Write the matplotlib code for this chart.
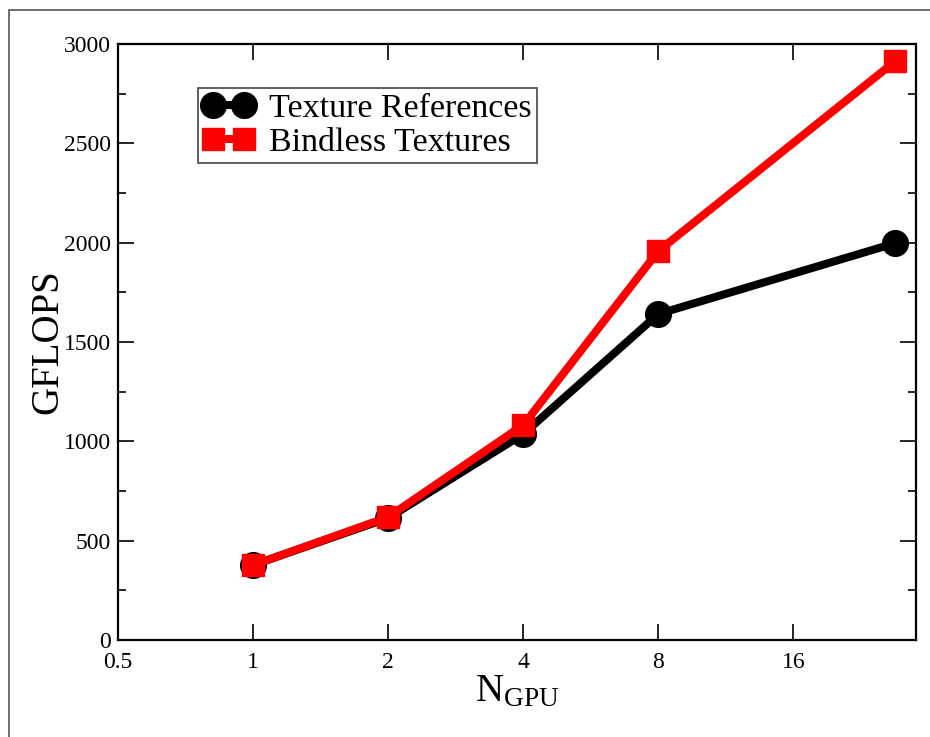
import numpy as np
import matplotlib.pyplot as plt
from matplotlib.patches import Rectangle
from matplotlib.ticker import FixedLocator, MultipleLocator

plt.rcParams['font.family'] = ['Liberation Serif', 'DejaVu Serif']
plt.rcParams['mathtext.fontset'] = 'custom'
plt.rcParams['mathtext.rm'] = 'Liberation Serif'
plt.rcParams['mathtext.it'] = 'Liberation Serif:italic'

# data
n_gpu = [1, 2, 4, 8, 27]
tex_refs = [377, 614, 1037, 1641, 1998]
bindless = [377, 619, 1082, 1958, 2914]
x_ticks = [0.5, 1, 2, 4, 8, 16]
x_labels = ['0.5', '1', '2', '4', '8', '16']

fig = plt.figure(figsize=(9.3, 7.37), dpi=100)
ax = fig.add_axes([118/930, 97/737, 798/930, 596/737])

# outer frame around the figure
fig.add_artist(Rectangle((9/930, -0.1), 1.2, 1.1 - 10/737,
                         transform=fig.transFigure, fill=False,
                         edgecolor='#555555', lw=1.2))

ax.plot(n_gpu, tex_refs, color='black', lw=5.8, marker='o', ms=18.5,
        label='Texture References', zorder=3)
ax.plot(n_gpu, bindless, color='red', lw=5.8, marker='s', ms=16,
        label='Bindless Textures', zorder=4)

ax.set_xscale('log', base=2)
ax.set_xlim(0.5, 30)
ax.set_ylim(0, 3000)
ax.xaxis.set_major_locator(FixedLocator(x_ticks))
ax.set_xticklabels(x_labels)
ax.xaxis.set_minor_locator(FixedLocator([]))
ax.yaxis.set_major_locator(MultipleLocator(500))
ax.yaxis.set_minor_locator(MultipleLocator(250))

ax.tick_params(which='both', direction='in', top=True, right=True,
               labelsize=17, width=1.2)
ax.tick_params(which='major', length=11.5, pad=5)
ax.tick_params(axis='x', which='major', pad=9)
ax.tick_params(which='minor', length=6)
for s in ax.spines.values():
    s.set_linewidth(1.6)

ax.set_ylabel('GFLOPS', fontsize=28, labelpad=-2)
ax.set_xlabel(r'N$_{\rm GPU}$', fontsize=28, labelpad=0)

leg = ax.legend(loc='upper left', bbox_to_anchor=(0.1, 0.926), fontsize=24.5,
                numpoints=2, handlelength=1.5, handletextpad=0.45,
                borderpad=0.15, labelspacing=0.08, borderaxespad=0,
                fancybox=False, framealpha=1)
leg.get_frame().set_edgecolor('#444444')
leg.get_frame().set_linewidth(1.2)

fig.savefig('out.png', dpi=100)
